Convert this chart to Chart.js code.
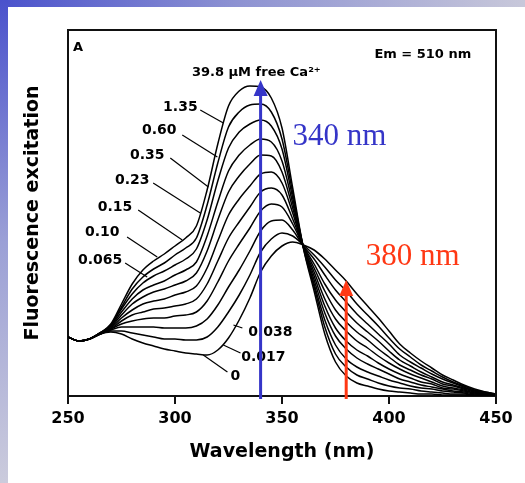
<!DOCTYPE html>
<html>
<head>
<meta charset="utf-8">
<script src="https://cdn.jsdelivr.net/npm/chart.js@4.4.0/dist/chart.umd.min.js"></script>
<style>
  html,body{margin:0;padding:0;background:#fff;}
  #wrap{position:relative;width:525px;height:483px;overflow:hidden;background:#fff;}
  #topband{position:absolute;left:0;top:0;width:525px;height:7px;background:linear-gradient(to right,#4a52cc,#8d92d2 45%,#c8c8da);}
  #leftband{position:absolute;left:0;top:0;width:8px;height:483px;background:linear-gradient(to bottom,#4a52cc,#9ba0d6 50%,#cbcbdc);}
  canvas{position:absolute;left:0;top:0;}
</style>
</head>
<body>
<div id="wrap">
  <div id="topband"></div>
  <div id="leftband"></div>
  <canvas id="c" width="525" height="483"></canvas>
</div>
<script>
// excitation spectra, emission at 510 nm
const wavelengths = [250,255,260,265,270,275,280,285,290,295,300,305,310,315,320,325,330,335,340,345,350,355,360,365,370,375,380,385,390,395,400,405,410,415,420,425,430,435,440,445,450];
const concLabels = ['0','0.017','0.038','0.065','0.10','0.15','0.23','0.35','0.60','1.35','39.8'];

const ca_0    = [59,55,57,62,64,62,57,53,50,47,45,43,42,41,46,58,76,98,124,140,150,154,151,146,137,126,115,102,90,78,65,52,43,35,28,21,16,11,7,4,2];
const ca_017  = [59,55,57,62,65,65,63,61,59,57,57,56,56,59,69,84,101,121,144,157,163,160,151,141,129,116,105,92,81,70,58,47,39,31,25,19,14,10,6,4,2];
const ca_038  = [59,55,57,62,66,69,69,69,69,68,68,68,70,77,91,109,126,145,165,175,176,166,150,137,121,106,94,82,72,62,52,41,34,28,22,17,13,9,5,3,2];
const ca_065  = [59,55,57,62,67,72,75,77,78,78,80,81,84,95,114,135,152,168,185,192,189,172,150,132,112,96,84,73,64,55,45,36,30,24,19,14,11,8,5,3,1];
const ca_10   = [59,55,57,62,67,75,81,84,87,88,90,92,97,112,135,158,174,189,204,208,201,177,150,128,105,86,74,64,56,47,39,31,26,21,17,12,10,7,4,2,1];
const ca_15   = [59,55,57,63,68,78,86,92,95,97,101,104,110,128,155,181,197,210,222,224,213,183,149,124,97,77,65,55,48,40,33,27,22,18,14,10,8,6,3,2,1];
const ca_23   = [59,55,57,63,69,81,92,99,104,107,111,115,123,145,176,204,220,232,241,240,224,188,149,120,90,68,55,46,40,33,27,22,18,14,12,8,7,5,3,1,1];
const ca_35   = [59,55,57,63,70,84,97,106,111,115,121,126,134,160,194,225,241,251,257,254,235,193,149,116,83,60,47,38,32,27,22,17,14,11,9,7,5,4,2,1,1];
const ca_60   = [59,55,57,63,71,87,102,113,120,125,131,137,147,176,215,248,264,272,276,270,247,198,149,112,76,51,37,29,24,20,16,13,10,8,7,5,4,3,1,1,0];
const ca_135  = [59,55,57,63,71,89,107,119,127,133,141,148,158,191,233,269,284,291,292,284,257,203,148,109,69,42,29,21,17,13,10,8,7,5,4,3,2,2,1,0,0];
const ca_398  = [59,55,57,63,72,92,112,126,135,142,150,158,170,206,252,290,305,310,309,298,268,208,148,105,62,34,20,13,10,7,5,4,3,2,2,1,1,1,0,0,0];

const curves = [ca_0,ca_017,ca_038,ca_065,ca_10,ca_15,ca_23,ca_35,ca_60,ca_135,ca_398];

// arrows at the two excitation wavelengths
const arrowNm = [340, 380];
const arrowTop = [316, 116];

const boldFont = '"DejaVu Sans", sans-serif';

// annotations placed in data units (nm, height)
const notes = [
  {t:'A', nm:252.3, h:348, size:13, align:'left'},
  {t:'Em = 510 nm', nm:415.8, h:341, size:13},
  {t:'39.8 \u00b5M free Ca\u00b2\u207a', nm:338, h:323, size:13},
  {t:'1.35', nm:302.5, h:289, size:14, lead:[311.8,286,322.6,273]},
  {t:'0.60', nm:292.6, h:266, size:14, lead:[303.4,261,319.8,239]},
  {t:'0.35', nm:287, h:241, size:14, lead:[297.8,238,315.6,209]},
  {t:'0.23', nm:280, h:216, size:14, lead:[289.8,213,311.8,183]},
  {t:'0.15', nm:272, h:189, size:14, lead:[282.8,186,303.4,156]},
  {t:'0.10', nm:266, h:164, size:14, lead:[277.6,159,291.7,139]},
  {t:'0.065', nm:265, h:136, size:14, lead:[276.7,133,287,119]},
  {t:'0.038', nm:344.6, h:64, size:14, lead:[327.3,71,331.5,68]},
  {t:'0.017', nm:341.3, h:39, size:14, lead:[322.6,51,330.6,43]},
  {t:'0', nm:328.2, h:20, size:14, lead:[313.2,41,324.5,24]}
];

const decor = {
  id:'decor',
  afterDatasetsDraw(chart){
    const {ctx, chartArea:a, scales:{x,y}} = chart;
    ctx.save();
    // top and right frame
    ctx.strokeStyle='#111'; ctx.lineWidth=2;
    ctx.beginPath();
    ctx.moveTo(a.left,a.top); ctx.lineTo(a.right,a.top); ctx.lineTo(a.right,a.bottom);
    ctx.stroke();
    // labels + leader lines
    ctx.fillStyle='#000'; ctx.textBaseline='middle';
    notes.forEach(n=>{
      ctx.font='bold '+n.size+'px '+boldFont;
      ctx.textAlign=n.align||'center';
      ctx.fillText(n.t, x.getPixelForValue(n.nm), y.getPixelForValue(n.h));
      if(n.lead){
        ctx.lineWidth=1.2; ctx.strokeStyle='#000';
        ctx.beginPath();
        ctx.moveTo(x.getPixelForValue(n.lead[0]), y.getPixelForValue(n.lead[1]));
        ctx.lineTo(x.getPixelForValue(n.lead[2]), y.getPixelForValue(n.lead[3]));
        ctx.stroke();
      }
    });
    // arrows
    const cols=['#3535c8','#ff3814'];
    arrowNm.forEach((nm,i)=>{
      const px=x.getPixelForValue(nm), top=y.getPixelForValue(arrowTop[i]);
      ctx.strokeStyle=cols[i]; ctx.fillStyle=cols[i]; ctx.lineWidth=3;
      ctx.beginPath(); ctx.moveTo(px,a.bottom+3); ctx.lineTo(px,top+14); ctx.stroke();
      ctx.beginPath(); ctx.moveTo(px,top); ctx.lineTo(px-7,top+16); ctx.lineTo(px+7,top+16); ctx.closePath(); ctx.fill();
    });
    ctx.font='31px "Liberation Serif", "Times New Roman", serif';
    ctx.textAlign='left';
    ctx.fillStyle=cols[0]; ctx.fillText('340 nm', x.getPixelForValue(354.9), y.getPixelForValue(259));
    ctx.fillStyle=cols[1]; ctx.fillText('380 nm', x.getPixelForValue(389.1), y.getPixelForValue(139));
    ctx.restore();
  }
};

new Chart(document.getElementById('c'),{
  type:'line',
  data:{
    labels:wavelengths,
    datasets:curves.map((c,i)=>({
      label:concLabels[i],
      data:c.map((v,j)=>({x:wavelengths[j],y:v})),
      borderColor:'#000', borderWidth:1.5, pointRadius:0,
      cubicInterpolationMode:'monotone', fill:false
    }))
  },
  options:{
    responsive:false, animation:false, devicePixelRatio:1,
    layout:{padding:{top:30,right:29,left:0,bottom:0}},
    plugins:{legend:{display:false},tooltip:{enabled:false}},
    scales:{
      x:{type:'linear',min:250,max:450,
        afterFit:s=>{s.height=87;},
        ticks:{stepSize:50,color:'#000',padding:5,font:{family:boldFont,size:16,weight:'bold'}},
        grid:{drawOnChartArea:false,drawTicks:true,tickLength:8,color:'#111',lineWidth:2},
        border:{color:'#111',width:2},
        title:{display:true,text:'Wavelength (nm)',color:'#000',padding:{top:0,bottom:20},font:{family:boldFont,size:19,weight:'bold'}}
      },
      y:{min:0,max:366,
        afterFit:s=>{s.width=68;},
        ticks:{display:false},
        grid:{display:false},
        border:{color:'#111',width:2},
        title:{display:true,text:'Fluorescence excitation',color:'#000',padding:{top:22,bottom:0},font:{family:boldFont,size:19,weight:'bold'}}
      }
    }
  },
  plugins:[decor]
});
</script>
</body>
</html>
